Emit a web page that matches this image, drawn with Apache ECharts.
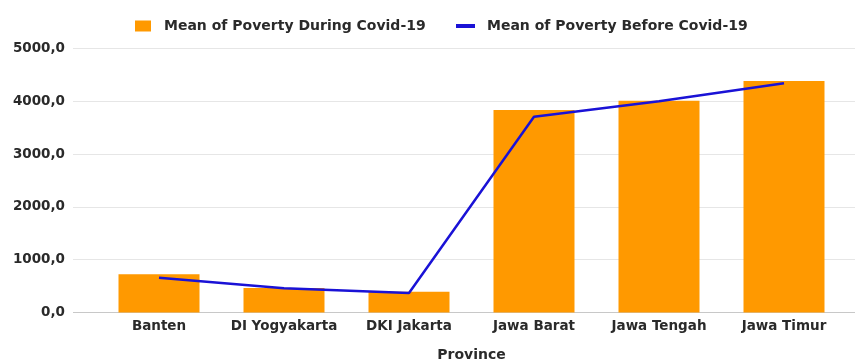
<!DOCTYPE html>
<html>
<head>
<meta charset="utf-8">
<script src="https://cdn.jsdelivr.net/npm/echarts@6/dist/echarts.min.js"></script>
<style>
  html, body { margin: 0; padding: 0; background: #fff; }
  #chart { width: 855px; height: 360px; }
</style>
</head>
<body>
<div id="chart"></div>
<script>
// Provinces and mean poverty figures
const provinces = ['Banten', 'DI Yogyakarta', 'DKI Jakarta', 'Jawa Barat', 'Jawa Tengah', 'Jawa Timur'];
const duringCovid = [723, 464, 394, 3835, 4011, 4384];
const beforeCovid = [659, 458, 369, 3708, 4000, 4341];
const yTicks = [0, 1000, 2000, 3000, 4000, 5000];

const seriesDuring = 'Mean of Poverty During Covid-19';
const seriesBefore = 'Mean of Poverty Before Covid-19';

const fontFamily = '"DejaVu Sans", sans-serif';
const textColor = '#2a2a2a';
const yMin = yTicks[0];
const yMax = yTicks[yTicks.length - 1];
const yStep = yTicks[1] - yTicks[0];

const chart = echarts.init(document.getElementById('chart'));
chart.setOption({
  animation: false,
  textStyle: { fontFamily: fontFamily },
  legend: [
    {
      data: [seriesDuring],
      icon: 'rect',
      itemWidth: 16,
      itemHeight: 11,
      left: 130,
      top: 14,
      textStyle: { fontSize: 14, color: textColor, fontWeight: 'bold', padding: [0, 0, 0, 8] }
    },
    {
      data: [seriesBefore],
      icon: 'rect',
      itemWidth: 19,
      itemHeight: 4,
      left: 451,
      top: 14,
      textStyle: { fontSize: 14, color: textColor, fontWeight: 'bold', padding: [0, 0, 0, 7] }
    }
  ],
  grid: [
    // full-width grid carrying the value labels and gridlines
    { left: 73, right: 0, top: 48.5, bottom: 47.5, containLabel: false, outerBoundsMode: 'none' },
    // plotting grid for bars and the line
    { left: 96.5, right: 8.5, top: 48.5, bottom: 47.5, containLabel: false, outerBoundsMode: 'none' }
  ],
  xAxis: [
    {
      type: 'category',
      gridIndex: 0,
      data: provinces,
      show: false
    },
    {
      type: 'category',
      gridIndex: 1,
      data: provinces,
      axisLine: { show: false },
      axisTick: { show: false },
      axisLabel: { interval: 0, hideOverlap: false, fontSize: 13.5, color: textColor, fontWeight: 'bold', margin: 7 },
      name: 'Province',
      nameLocation: 'middle',
      nameGap: 36,
      nameTextStyle: { fontSize: 14, color: textColor, fontWeight: 'bold' }
    }
  ],
  yAxis: [
    {
      type: 'value',
      gridIndex: 0,
      min: yMin,
      max: yMax,
      interval: yStep,
      axisLine: { show: false },
      axisTick: { show: false },
      axisLabel: {
        fontSize: 13.5,
        color: textColor,
        fontWeight: 'bold',
        margin: 8,
        formatter: v => v.toFixed(1).replace('.', ',')
      },
      splitLine: {
        lineStyle: { color: ['#c8c8c8', '#e6e6e6', '#e6e6e6', '#e6e6e6', '#e6e6e6', '#e6e6e6'], width: 1 }
      }
    },
    {
      type: 'value',
      gridIndex: 1,
      min: yMin,
      max: yMax,
      interval: yStep,
      show: false,
      splitLine: { show: false }
    }
  ],
  series: [
    {
      name: seriesDuring,
      type: 'bar',
      xAxisIndex: 1,
      yAxisIndex: 1,
      data: duringCovid,
      barWidth: 81,
      itemStyle: { color: '#ff9900' }
    },
    {
      name: seriesBefore,
      type: 'line',
      xAxisIndex: 1,
      yAxisIndex: 1,
      data: beforeCovid,
      showSymbol: false,
      symbol: 'none',
      lineStyle: { color: '#1a12d6', width: 2.5 },
      itemStyle: { color: '#1a12d6' }
    }
  ]
});
</script>
</body>
</html>
